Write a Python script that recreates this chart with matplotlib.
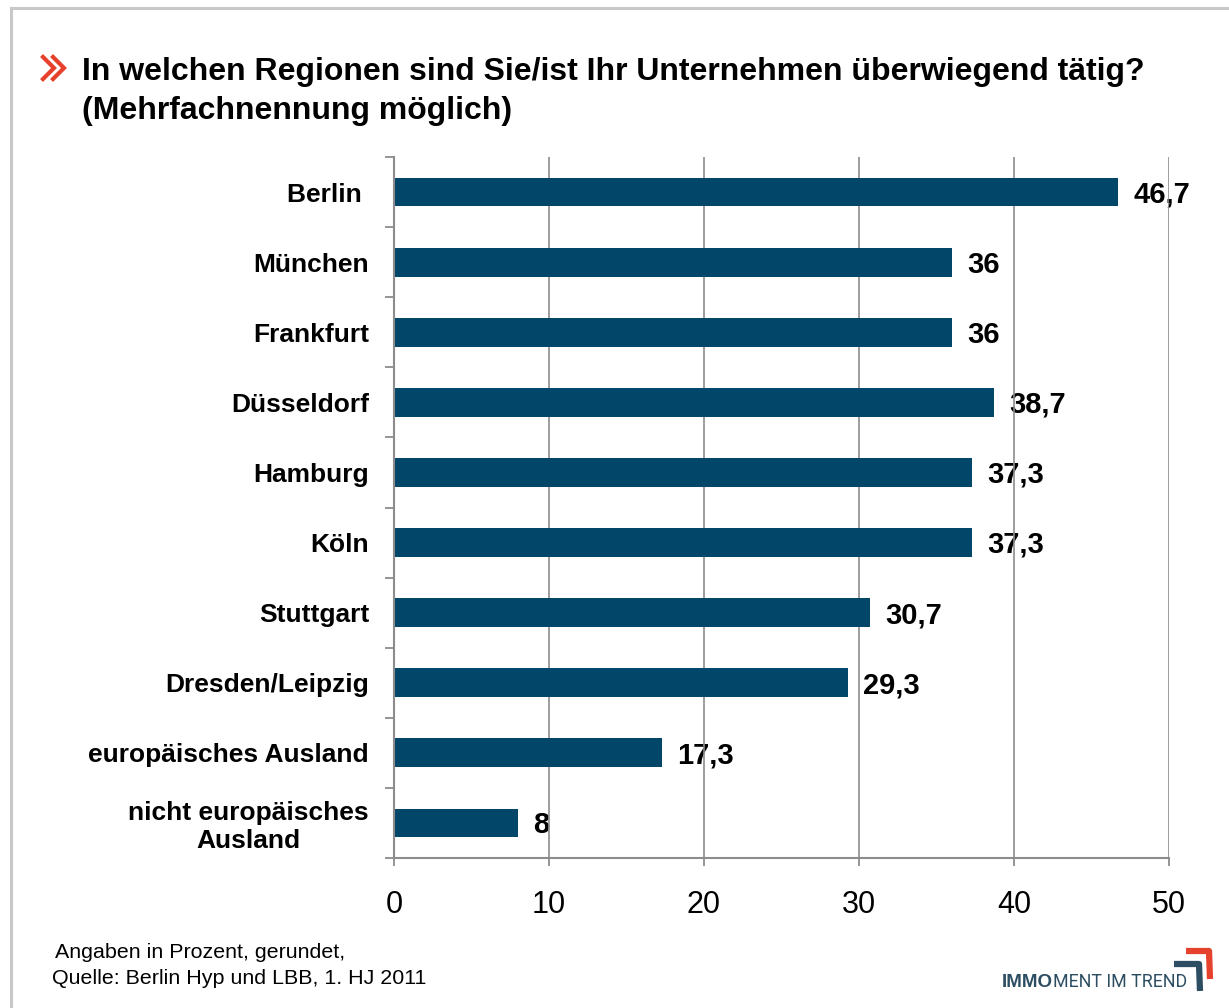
import matplotlib
matplotlib.use('Agg')
import matplotlib.pyplot as plt
from matplotlib.lines import Line2D
import numpy as np

# --- Data ---
regions = ['Berlin ', 'München', 'Frankfurt', 'Düsseldorf', 'Hamburg', 'Köln',
           'Stuttgart', 'Dresden/Leipzig', 'europäisches Ausland',
           'nicht europäisches\nAusland']
values = [46.7, 36, 36, 38.7, 37.3, 37.3, 30.7, 29.3, 17.3, 8]
x_ticks = [0, 10, 20, 30, 40, 50]

TITLE_1 = 'In welchen Regionen sind Sie/ist Ihr Unternehmen überwiegend tätig?'
TITLE_2 = '(Mehrfachnennung möglich)'
NOTE_1 = 'Angaben in Prozent, gerundet,'
NOTE_2 = 'Quelle: Berlin Hyp und LBB, 1. HJ 2011'

BAR_COLOR = '#02466a'
AXIS_GRAY = '#8c8c8c'
FRAME_GRAY = '#c8c8c8'
RED = '#e5412d'
LOGO_BLUE = '#2c4d62'

plt.rcParams['font.family'] = ['Liberation Sans', 'DejaVu Sans']

W, H = 1229, 1008
fig = plt.figure(figsize=(W / 100, H / 100), dpi=100)


def fx(px):
    return px / W


def fy(py):
    return 1 - py / H


# frame (top + left edge, rest cut off)
fig.add_artist(Line2D([fx(11), 1], [fy(8), fy(8)], color=FRAME_GRAY, lw=2.2))
fig.add_artist(Line2D([fx(11), fx(11)], [fy(8), 0], color=FRAME_GRAY, lw=2.2))

# red double chevron before the title
for x0 in (43, 53):
    fig.add_artist(Line2D([fx(x0), fx(x0 + 11), fx(x0)], [fy(57), fy(68), fy(79)],
                          color=RED, lw=3, solid_joinstyle='miter'))

fig.text(fx(82), fy(80), TITLE_1, fontsize=23, fontweight='bold', va='baseline')
fig.text(fx(82), fy(119), TITLE_2, fontsize=23, fontweight='bold', va='baseline')

# --- Chart ---
ax = fig.add_axes([fx(394), fy(858), fx(1169) - fx(394), (858 - 157) / H])
ypos = np.arange(len(regions))
ax.barh(ypos, values, height=0.41, color=BAR_COLOR, zorder=2)

ax.set_xlim(0, 50)
ax.set_ylim(len(regions) - 0.5, -0.5)
ax.set_xticks(x_ticks)
ax.set_yticks(ypos)
ax.set_yticklabels(regions, fontsize=19, fontweight='bold')
for lab in ax.get_yticklabels():
    lab.set_multialignment('center')
ax.set_yticks(np.arange(len(regions) + 1) - 0.5, minor=True)
ax.tick_params(axis='y', which='major', length=0, pad=18)
ax.tick_params(axis='y', which='minor', length=6.5, width=1.3, color=AXIS_GRAY)
ax.tick_params(axis='x', length=6, width=1.3, color=AXIS_GRAY, labelsize=22, pad=17)

ax.set_axisbelow(True)
ax.grid(axis='x', color=AXIS_GRAY, lw=1.2, zorder=0.5)
for s in ['top', 'right']:
    ax.spines[s].set_visible(False)
for s in ['left', 'bottom']:
    ax.spines[s].set_color(AXIS_GRAY)
    ax.spines[s].set_linewidth(1.5)

for y, v in zip(ypos, values):
    txt = ('%g' % v).replace('.', ',')
    ax.annotate(txt, (v, y), xytext=(11, -7.5), textcoords='offset points',
                va='baseline', ha='left', fontsize=21, fontweight='bold',
                annotation_clip=False, zorder=0.3)

# --- Footnote ---
fig.text(fx(55), fy(958), NOTE_1, fontsize=15.4, va='baseline')
fig.text(fx(52), fy(984), NOTE_2, fontsize=15.4, va='baseline')

# --- Logo ---
t = fig.text(fx(1002), fy(987), 'IMMO', fontsize=13.5, fontweight='bold',
             color=LOGO_BLUE, va='baseline')
fig.canvas.draw()
bb = t.get_window_extent()
fig.text(bb.x1 / W, fy(987), 'MENT IM TREND', fontsize=12.8, color=LOGO_BLUE,
         va='baseline', family=['Roboto', 'Liberation Sans'])
fig.add_artist(Line2D([fx(1174), fx(1199), fx(1200)], [fy(964), fy(964), fy(991)],
                      color=LOGO_BLUE, lw=4.5, solid_capstyle='butt'))
fig.add_artist(Line2D([fx(1186), fx(1209), fx(1210)], [fy(951), fy(951), fy(979)],
                      color=RED, lw=4.5, solid_capstyle='butt'))

fig.savefig('out.png', dpi=100)
